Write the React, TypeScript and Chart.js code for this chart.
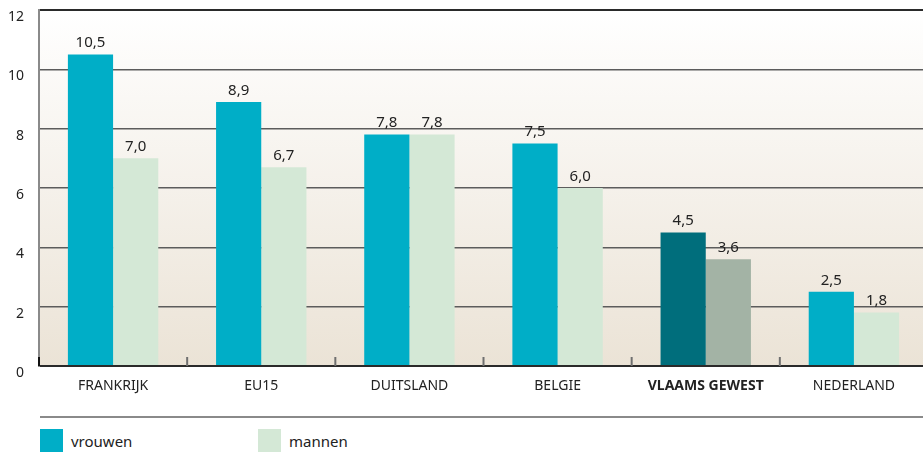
import React, { useEffect, useRef } from "react";
import { Chart, registerables } from "chart.js";

Chart.register(...registerables);

const categories = ["FRANKRIJK", "EU15", "DUITSLAND", "BELGIE", "VLAAMS GEWEST", "NEDERLAND"];
const vrouwen = [10.5, 8.9, 7.8, 7.5, 4.5, 2.5];
const mannen = [7.0, 6.7, 7.8, 6.0, 3.6, 1.8];
const yTicks = [0, 2, 4, 6, 8, 10, 12];
const highlightIndex = 4;

const FONT = "'Noto Sans', 'DejaVu Sans', sans-serif";
const C_VROUW = "#00aec7";
const C_VROUW_HL = "#006e7c";
const C_MAN = "#d4e8d6";
const C_MAN_HL = "#a3b3a5";

const bgPlugin = {
  id: "bgGradient",
  beforeDraw(chart: any) {
    const { ctx, chartArea: a } = chart;
    const g = ctx.createLinearGradient(0, a.top, 0, a.bottom);
    g.addColorStop(0, "#ffffff");
    g.addColorStop(1, "#ebe3d6");
    ctx.save();
    ctx.fillStyle = g;
    ctx.fillRect(a.left, a.top, a.right - a.left, a.bottom - a.top);
    ctx.restore();
  },
};

const tickPlugin = {
  id: "catTicks",
  afterDraw(chart: any) {
    const { ctx, chartArea: a } = chart;
    const n = categories.length;
    const w = (a.right - a.left) / n;
    ctx.save();
    for (let i = 0; i <= n; i++) {
      const x = a.left + i * w;
      ctx.strokeStyle = i === 0 ? "#111" : "#6f6f6f";
      ctx.lineWidth = 2;
      ctx.beginPath();
      ctx.moveTo(x, a.bottom);
      ctx.lineTo(x, a.bottom - 9);
      ctx.stroke();
    }
    ctx.restore();
  },
};

const labelPlugin = {
  id: "valueLabels",
  afterDatasetsDraw(chart: any) {
    const { ctx } = chart;
    ctx.save();
    ctx.font = `15px ${FONT}`;
    ctx.fillStyle = "#222";
    ctx.textAlign = "center";
    ctx.textBaseline = "bottom";
    chart.data.datasets.forEach((ds: any, di: number) => {
      const meta = chart.getDatasetMeta(di);
      meta.data.forEach((bar: any, i: number) => {
        const v = ds.data[i];
        ctx.fillText(v.toFixed(1).replace(".", ","), bar.x, bar.y - 4);
      });
    });
    ctx.restore();
  },
};

export default function App() {
  const ref = useRef<HTMLCanvasElement>(null);
  useEffect(() => {
    if (!ref.current) return;
    const chart = new Chart(ref.current, {
      type: "bar",
      data: {
        labels: categories,
        datasets: [
          {
            label: "vrouwen",
            data: vrouwen,
            backgroundColor: vrouwen.map((_, i) => (i === highlightIndex ? C_VROUW_HL : C_VROUW)),
            categoryPercentage: 0.61,
            barPercentage: 1,
          },
          {
            label: "mannen",
            data: mannen,
            backgroundColor: mannen.map((_, i) => (i === highlightIndex ? C_MAN_HL : C_MAN)),
            categoryPercentage: 0.61,
            barPercentage: 1,
          },
        ],
      },
      options: {
        animation: false,
        responsive: false,
        maintainAspectRatio: false,
        layout: { padding: { top: 10, right: 7, left: 0, bottom: 0 } },
        plugins: { legend: { display: false }, tooltip: { enabled: false } },
        scales: {
          x: {
            grid: { display: false, drawTicks: false },
            border: { display: false },
            ticks: {
              padding: 12,
              color: "#222",
              font: (c: any) => ({
                family: FONT,
                size: 14,
                weight: c.index === highlightIndex ? "bold" : "normal",
              }),
            },
            afterFit(s: any) {
              s.height = 34;
              s.paddingLeft = 0;
              s.paddingRight = 0;
            },
          },
          y: {
            min: 0,
            max: 12,
            afterBuildTicks(s: any) {
              s.ticks = yTicks.map((v) => ({ value: v }));
            },
            grid: {
              drawTicks: false,
              color: (c: any) => (c.tick && (c.tick.value === 12 || c.tick.value === 0) ? "#2a2a2a" : "#5c5c5c"),
              lineWidth: (c: any) => (c.tick && (c.tick.value === 12 || c.tick.value === 0) ? 2 : 1.5),
            },
            border: { display: true, color: "#8a8a8a", width: 2 },
            ticks: {
              padding: 15,
              labelOffset: 7,
              color: "#222",
              font: { family: FONT, size: 14 },
            },
            afterFit(s: any) {
              s.width = 39;
              s.paddingTop = 0;
              s.paddingBottom = 0;
            },
          },
        },
      },
      plugins: [bgPlugin, tickPlugin, labelPlugin],
    });
    return () => chart.destroy();
  }, []);

  const legendText: React.CSSProperties = {
    position: "absolute",
    top: 431,
    fontFamily: FONT,
    fontSize: 15,
    color: "#222",
    lineHeight: "20px",
  };

  return (
    <div
      style={{
        position: "fixed",
        left: 0,
        top: 0,
        width: 923,
        height: 456,
        overflow: "hidden",
        background: "#fff",
      }}
    >
      <canvas
        ref={ref}
        width={935}
        height={400}
        style={{ position: "absolute", left: 0, top: 0, width: 935, height: 400 }}
      />
      <div style={{ position: "absolute", left: 40, top: 416, width: 883, height: 2, background: "#8a8a8a" }} />
      <div style={{ position: "absolute", left: 40, top: 429, width: 23, height: 23, background: C_VROUW }} />
      <div style={{ ...legendText, left: 71 }}>vrouwen</div>
      <div style={{ position: "absolute", left: 258, top: 429, width: 23, height: 23, background: C_MAN }} />
      <div style={{ ...legendText, left: 289 }}>mannen</div>
    </div>
  );
}
